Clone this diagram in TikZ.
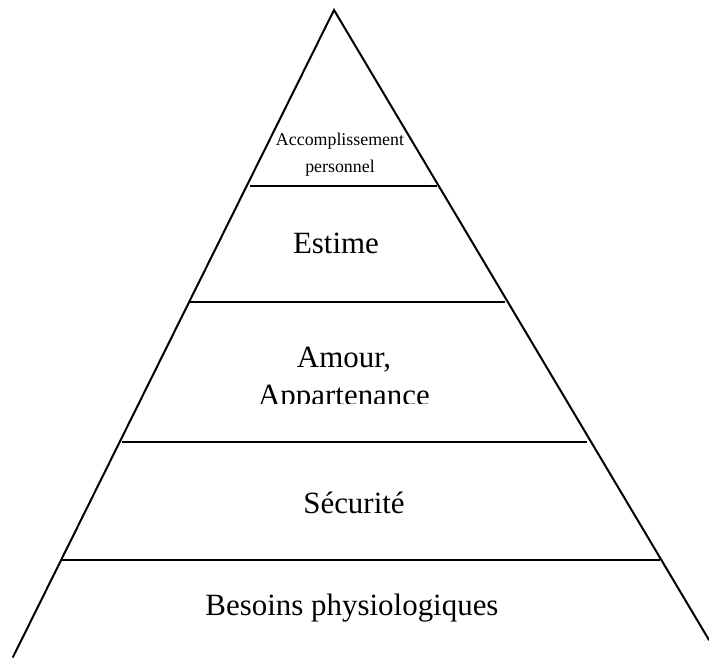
\documentclass[tikz,border=0pt]{standalone}
\usepackage{fontspec}
\setmainfont{Liberation Serif}
\begin{document}
\begin{tikzpicture}[x=0.75pt,y=-0.75pt,
  edge/.style={line width=1.5pt,line cap=round,line join=miter},
  big/.style={font=\fontsize{23.2}{28}\selectfont,anchor=base,inner sep=0pt},
  small/.style={font=\fontsize{13.4}{16}\selectfont,anchor=base,inner sep=0pt}]
\useasboundingbox (0,0) rectangle (709,657);
\clip (0,0) rectangle (709,657);
% triangle sides
\coordinate (apex) at (334,10);
\coordinate (bl) at (13,657);
\coordinate (br) at (709,640);
\draw[edge] (bl) -- (apex) -- (br);
% level separators
\coordinate (l1a) at (250,186); \coordinate (l1b) at (437,186);
\coordinate (l2a) at (189,302); \coordinate (l2b) at (505,302);
\coordinate (l3a) at (122,442); \coordinate (l3b) at (587,442);
\coordinate (l4a) at (62,560);  \coordinate (l4b) at (660,560);
\draw[edge,line cap=butt] (l1a) -- (l1b);
\draw[edge,line cap=butt] (l2a) -- (l2b);
\draw[edge,line cap=butt] (l3a) -- (l3b);
\draw[edge,line cap=butt] (l4a) -- (l4b);
% labels
\node[small] (acc1) at (340,145) {Accomplissement};
\node[small] (acc2) at (340,172) {personnel};
\node[big] (est) at (336,253) {Estime};
\node[big] (amo) at (344,367) {Amour,};
\begin{scope}
\clip (0,303) rectangle (709,403);
\node[big] (app) at (344,405) {Appartenance};
\end{scope}
\node[big] (sec) at (354,513) {Sécurité};
\node[big] (bes) at (352,615) {Besoins physiologiques};
\end{tikzpicture}
\end{document}
